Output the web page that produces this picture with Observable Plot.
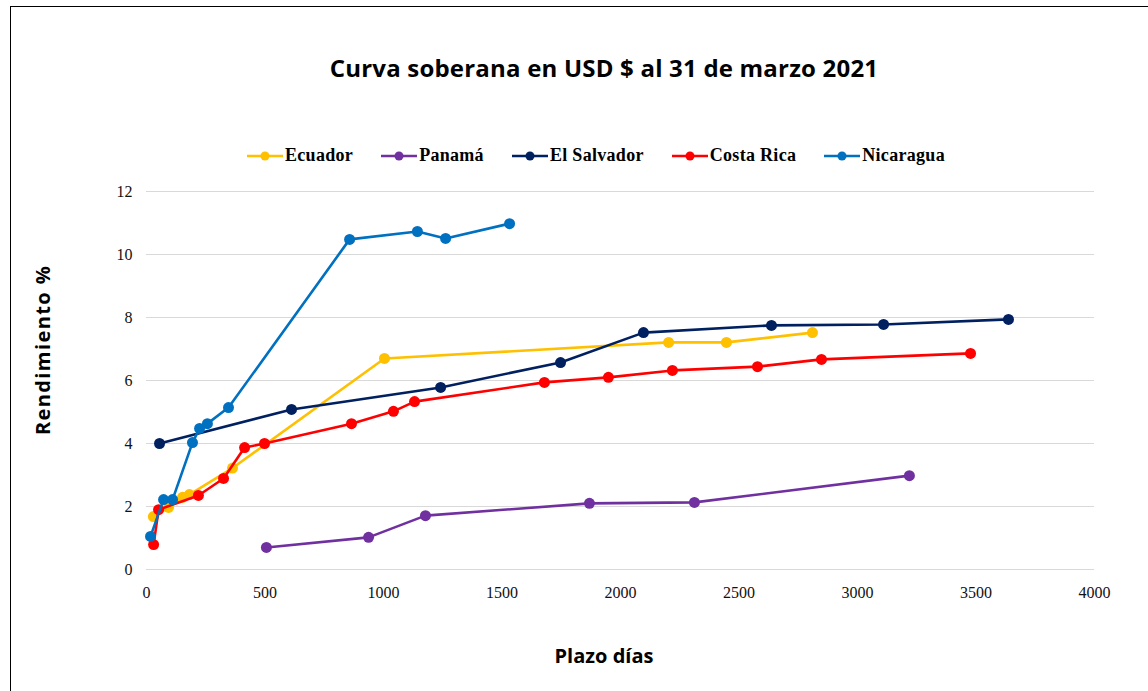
<!DOCTYPE html>
<html>
<head>
<meta charset="utf-8">
<script src="https://cdn.jsdelivr.net/npm/d3@7"></script>
<script src="https://cdn.jsdelivr.net/npm/@observablehq/plot@0.6"></script>
<style>
  html, body { margin: 0; padding: 0; background: #fff; overflow: hidden; }
  #wrap { position: relative; width: 1148px; height: 691px; overflow: hidden; background: #fff; }
  #frame { position: absolute; left: 10px; top: 6px; width: 1300px; height: 900px; border: 1.5px solid #000; box-sizing: border-box; }
  #title { position: absolute; left: 0; width: 1208px; top: 51px; text-align: center;
           font-family: "Open Sans", sans-serif; font-weight: 700; font-size: 24px; letter-spacing: 0.2px; color: #000; }
  #legend { position: absolute; left: 0; width: 1192px; top: 145px; display: flex; justify-content: center; gap: 28px;
            font-family: "Liberation Serif", serif; font-weight: 700; font-size: 18px; letter-spacing: 0.3px; color: #000; }
  .item { display: flex; align-items: center; gap: 2px; }
  #ylab { position: absolute; left: 42px; top: 350px; transform: translate(-50%, -50%) rotate(-90deg);
          font-family: "Open Sans", sans-serif; font-weight: 700; font-size: 20px; letter-spacing: 1.4px; white-space: nowrap; }
  #xlab { position: absolute; left: 0; width: 1208px; top: 642px; text-align: center;
          font-family: "Open Sans", sans-serif; font-weight: 700; font-size: 20px; }
  #chart { position: absolute; left: 0; top: 0; }
</style>
</head>
<body>
<div id="wrap">
  <div id="frame"></div>
  <div id="chart"></div>
  <div id="title">Curva soberana en USD $ al 31 de marzo 2021</div>
  <div id="legend"></div>
  <div id="ylab">Rendimiento %</div>
  <div id="xlab">Plazo días</div>
</div>
<script>
// ---- Data ----
const seriesNames = ["Ecuador", "Panamá", "El Salvador", "Costa Rica", "Nicaragua"];
const seriesColors = ["#FFC000", "#7030A0", "#002060", "#FF0000", "#0070C0"];

const ecuadorDays   = [29, 93, 152, 181, 363, 1004, 2203, 2447, 2810];
const ecuadorYield  = [1.68, 1.97, 2.29, 2.38, 3.22, 6.70, 7.21, 7.21, 7.52];

const panamaDays    = [506, 937, 1177, 1869, 2312, 3219];
const panamaYield   = [0.70, 1.02, 1.71, 2.10, 2.13, 2.98];

const salvadorDays  = [55, 612, 1241, 1747, 2097, 2637, 3110, 3637];
const salvadorYield = [4.00, 5.08, 5.78, 6.57, 7.52, 7.75, 7.78, 7.94];

const costaDays     = [30, 51, 219, 325, 414, 498, 865, 1042, 1131, 1679, 1949, 2219, 2578, 2848, 3477];
const costaYield    = [0.79, 1.90, 2.35, 2.89, 3.87, 4.00, 4.63, 5.02, 5.33, 5.94, 6.10, 6.32, 6.44, 6.67, 6.86];

const nicaDays      = [17, 72, 110, 194, 224, 257, 346, 857, 1143, 1262, 1532];
const nicaYield     = [1.05, 2.22, 2.22, 4.03, 4.48, 4.63, 5.14, 10.48, 10.73, 10.51, 10.98];

const xTicks = [0, 500, 1000, 1500, 2000, 2500, 3000, 3500, 4000];
const yTicks = [0, 2, 4, 6, 8, 10, 12];

// ---- Build rows ----
const seriesData = [
  [ecuadorDays, ecuadorYield],
  [panamaDays, panamaYield],
  [salvadorDays, salvadorYield],
  [costaDays, costaYield],
  [nicaDays, nicaYield]
];
const rows = [];
seriesData.forEach(([ds, ys], i) => {
  ds.forEach((d, j) => rows.push({series: seriesNames[i], days: d, yield: ys[j]}));
});

const marks = [
  Plot.gridY(yTicks, {stroke: "#d9d9d9", strokeOpacity: 1, strokeWidth: 1.2}),
  Plot.axisX(xTicks, {tickSize: 0, tickPadding: 17, tickFormat: d => String(d), fill: "#111"}),
  Plot.axisY(yTicks, {tickSize: 0, tickPadding: 14, tickFormat: d => String(d), fill: "#111"})
];
seriesNames.forEach((name) => {
  const sub = rows.filter(r => r.series === name);
  marks.push(Plot.line(sub, {x: "days", y: "yield", stroke: "series", strokeWidth: 2.6}));
  marks.push(Plot.dot(sub, {x: "days", y: "yield", fill: "series", r: 5.5, stroke: "none"}));
});

const chart = Plot.plot({
  width: 1148,
  height: 691,
  marginLeft: 146,
  marginRight: 54,
  marginTop: 191,
  marginBottom: 122,
  x: {domain: [0, 4000], label: null},
  y: {domain: [0, 12], label: null},
  color: {domain: seriesNames, range: seriesColors},
  style: {fontFamily: "Liberation Serif, serif", fontSize: "16px", background: "transparent", overflow: "visible"},
  marks
});
document.getElementById("chart").appendChild(chart);

// ---- Legend ----
const legend = document.getElementById("legend");
seriesNames.forEach((name, i) => {
  const item = document.createElement("div");
  item.className = "item";
  item.innerHTML = `<svg width="36" height="12"><line x1="0" y1="6" x2="36" y2="6" stroke="${seriesColors[i]}" stroke-width="2.6"/><circle cx="18" cy="6" r="4.5" fill="${seriesColors[i]}"/></svg><span>${name}</span>`;
  legend.appendChild(item);
});
</script>
</body>
</html>
